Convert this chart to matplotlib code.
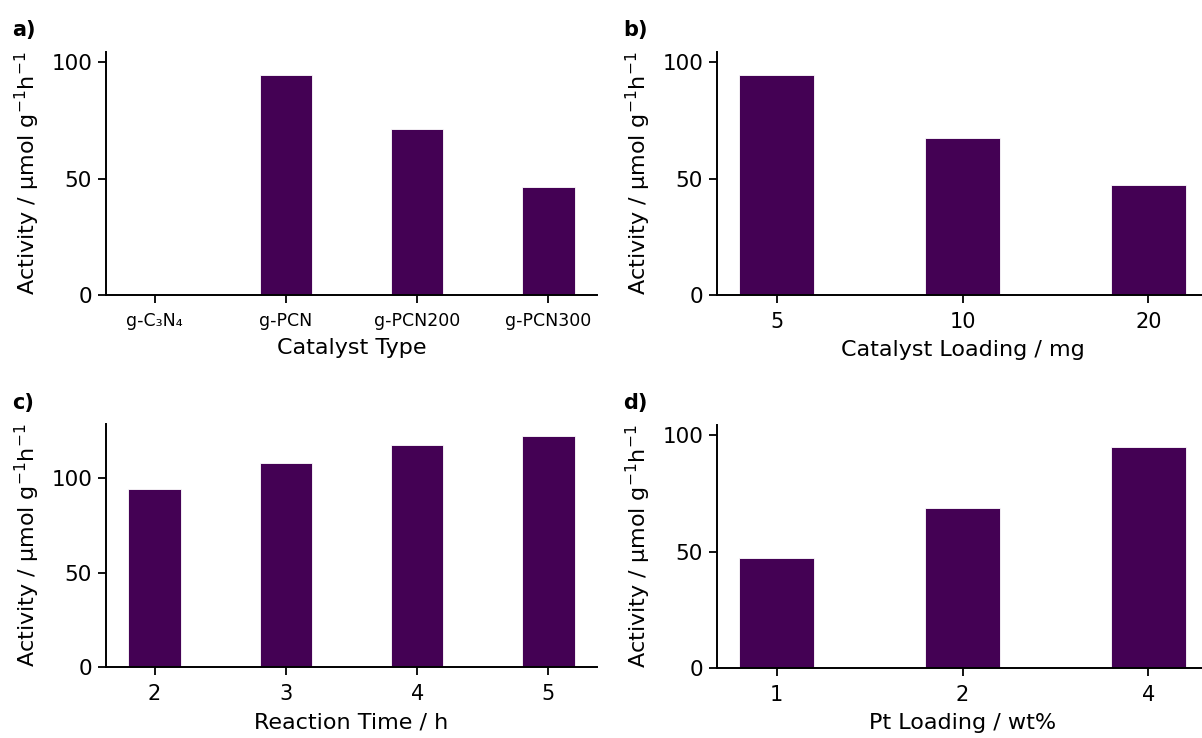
import matplotlib
matplotlib.use("Agg")
import matplotlib.pyplot as plt

# ---- data ----
catalysts = ['g-C₃N₄', 'g-PCN', 'g-PCN200', 'g-PCN300']
activity_catalyst = [0.0, 94.8, 71.5, 46.5]

loadings = ['5', '10', '20']
activity_loading = [94.8, 67.6, 47.4]

times = ['2', '3', '4', '5']
activity_time = [94.5, 108.3, 117.8, 122.2]

pt_loadings = ['1', '2', '4']
activity_pt = [47.5, 68.7, 95.0]

ylabel = 'Activity / μmol g$^{-1}$h$^{-1}$'
bar_color = '#440154'

W, H = 1202, 738
fig = plt.figure(figsize=(W / 100, H / 100), dpi=100)
plt.rcParams['font.family'] = ['DejaVu Sans']

def px_axes(left, top, right, bottom):
    return fig.add_axes([left / W, 1 - bottom / H, (right - left) / W, (bottom - top) / H])

panels = [
    (px_axes(106, 52, 597, 295), catalysts, activity_catalyst, 'Catalyst Type', 104.5, 'a)', (12, 30), 12.5),
    (px_axes(717, 52, 1208, 295), loadings, activity_loading, 'Catalyst Loading / mg', 104.5, 'b)', (623, 30), 15),
    (px_axes(106, 424, 597, 667), times, activity_time, 'Reaction Time / h', 128.7, 'c)', (12, 403), 15),
    (px_axes(717, 425, 1208, 668), pt_loadings, activity_pt, 'Pt Loading / wt%', 104.5, 'd)', (623, 403), 15),
]

for ax, cats, vals, xl, ytop, lab, (lx, ly), xtfs in panels:
    x = list(range(len(cats)))
    ax.bar(x, vals, width=0.4, color=bar_color, edgecolor='white', linewidth=0.6)
    ax.set_xticks(x)
    ax.set_xticklabels(cats, fontsize=xtfs)
    ax.set_ylim(0, ytop)
    ax.set_yticks([0, 50, 100])
    ax.tick_params(axis='y', labelsize=15.5, length=6, width=1.3, pad=4)
    ax.tick_params(axis='x', length=6, width=1.3, pad=6)
    ax.set_xlabel(xl, fontsize=16, labelpad=6)
    ax.set_ylabel(ylabel, fontsize=16, labelpad=7)
    for s in ['top', 'right']:
        ax.spines[s].set_visible(False)
    for s in ['left', 'bottom']:
        ax.spines[s].set_linewidth(1.4)
    fig.text(lx / W, 1 - ly / H, lab, fontsize=15, fontweight='bold', va='center', ha='left')

fig.savefig('out.png', dpi=100)
